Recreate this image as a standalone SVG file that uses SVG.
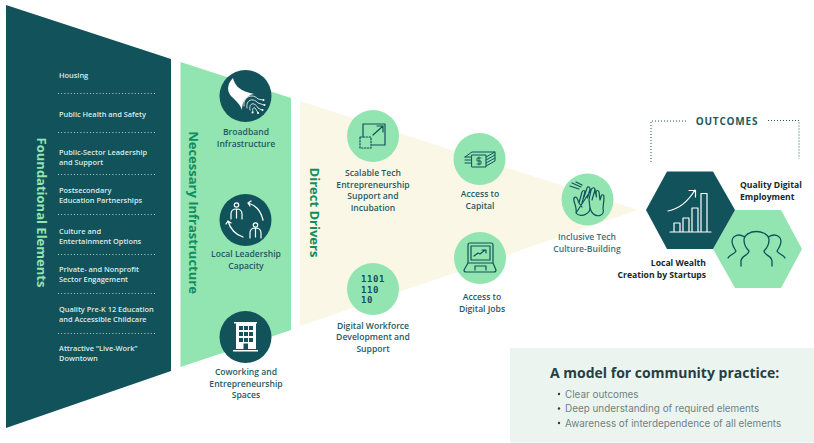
<svg xmlns="http://www.w3.org/2000/svg" width="814" height="443" viewBox="0 0 814 443">
<style>
text{font-family:"Open Sans","Liberation Sans",sans-serif}
.item{font-size:7.4px;font-weight:600;fill:#dcebe8}
.dots{stroke:#dcebe8;stroke-width:.8;stroke-dasharray:1 2.2;fill:none}
.head{font-size:13px;font-weight:700;text-anchor:middle}
.lab{font-size:8.6px;font-weight:600;fill:#1f5a63;text-anchor:middle}
.out{font-size:8.6px;font-weight:700;fill:#17262a}
.dark{fill:#11525b}
.mint{fill:#92e4b1}
.wl{fill:none;stroke:#fff;stroke-width:1.2;stroke-linecap:round;stroke-linejoin:round}
.dl{fill:none;stroke:#11525b;stroke-width:1.2;stroke-linecap:round;stroke-linejoin:round}
.bul{font-size:9.9px;fill:#71817f;font-family:Inter,"Liberation Sans",sans-serif}
.bin{font-family:"DejaVu Sans Mono","Liberation Mono",monospace;font-size:9px;font-weight:700;fill:#11525b;letter-spacing:.6px}
</style>
<g id="foundational">
<path class="dark" d="M6 5L171 59V371L6 428Z"/>
<text class="head" fill="#92e4b1" transform="translate(36.500 212.500) rotate(90)">Foundational Elements</text>
<path class="dots" d="M58 93.500H156M58 132.500H156M58 174.500H156M58 214.500H156M58 254.500H156M58 293.500H156M58 333.500H156"/>
<text class="item" x="59" y="78">Housing</text>
<text class="item" x="59" y="117">Public Health and Safety</text>
<text class="item" x="59" y="155">Public-Sector Leadership</text>
<text class="item" x="59" y="165">and Support</text>
<text class="item" x="59" y="193">Postsecondary</text>
<text class="item" x="59" y="203">Education Partnerships</text>
<text class="item" x="59" y="234">Culture and</text>
<text class="item" x="59" y="244">Entertainment Options</text>
<text class="item" x="59" y="272">Private- and Nonprofit</text>
<text class="item" x="59" y="282">Sector Engagement</text>
<text class="item" x="59" y="312">Quality Pre-K 12 Education</text>
<text class="item" x="59" y="322">and Accessible Childcare</text>
<text class="item" x="59" y="351">Attractive “Live-Work”</text>
<text class="item" x="59" y="361">Downtown</text>
</g>
<g id="necessary">
<path class="mint" d="M180.500 62L291 98V330L180.500 367Z"/>
<text class="head" fill="#0f8f5f" transform="translate(188.500 212.500) rotate(90)">Necessary Infrastructure</text>
</g>
<g id="direct">
<path fill="#fbf7e7" d="M300 101L638 210L300 326Z"/>
<text class="head" fill="#0f8f5f" transform="translate(310 212.500) rotate(90)">Direct Drivers</text>
</g>
<g id="broadband">
<circle class="dark" cx="245.500" cy="96" r="26"/>
<path fill="#fff" d="M233 78C228 83 226 90 231 96C236 101 240 104 242 110C242 101 247 95 254 94C246 92 236 90 233 78Z"/>
<path class="wl" style="stroke-width:.8" d="M244 106C243 100 247 96 252 96C254 96 256 97 258 99L263 100M247 108C246 103 249 99 253 100C255 100 257 102 258 103L264 105M250 110C249 106 251 103 254 104C256 105 257 106 258 108L262 110M253 112C252 109 253 107 255 108L257 111L258 113"/>
<circle cx="263.500" cy="100" r="1" fill="#fff"/><circle cx="264.500" cy="105" r="1" fill="#fff"/><circle cx="262.500" cy="110" r="1" fill="#fff"/><circle cx="258" cy="113" r="1" fill="#fff"/><circle cx="252.500" cy="112.500" r="1" fill="#fff"/>
<text class="lab" x="246" y="135">Broadband</text>
<text class="lab" x="246" y="147">Infrastructure</text>
</g>
<g id="leadership">
<circle class="dark" cx="245.500" cy="220" r="26"/>
<circle class="wl" cx="236.500" cy="205" r="2.200"/>
<path class="wl" d="M231 219V214C231 210 234 209 236.500 209C239 209 242 210 242 214V219M236.500 209V218"/>
<circle class="wl" cx="255.500" cy="225" r="2.200"/>
<path class="wl" d="M250 238V233C250 229 253 228 255.500 228C258 228 261 229 261 233V238M255.500 228V237"/>
<path class="wl" style="stroke-width:1.300" d="M248 203C255 205 261 211 263 220M248 203L251 201M248 203L250 206M243 237C236 235 230 229 228 221M228 221L226 224M228 221L231 223"/>
<text class="lab" x="246" y="257">Local Leadership</text>
<text class="lab" x="246" y="269">Capacity</text>
</g>
<g id="coworking">
<circle class="dark" cx="245.500" cy="337" r="26"/>
<path fill="#fff" d="M234 322H257V323.500H256V349H236V323.500H234ZM233 350H258V351.500H233Z"/>
<path class="dark" d="M239 326h4v4h-4zM244 326h4v4h-4zM249 326h4v4h-4zM239 332h4v4h-4zM244 332h4v4h-4zM249 332h4v4h-4zM239 338h4v4h-4zM244 338h4v4h-4zM249 338h4v4h-4zM243.500 343.500h4.500v5.500h-4.500z"/>
<text class="lab" x="246" y="375">Coworking and</text>
<text class="lab" x="246" y="387">Entrepreneurship</text>
<text class="lab" x="246" y="398">Spaces</text>
</g>
<g id="scalable">
<circle class="mint" cx="373" cy="136" r="26"/>
<path class="dl" d="M363 137V124H385V145H372"/>
<path class="dl" stroke-dasharray="1.500 1.500" d="M360 137H371V148H360Z"/>
<path class="dl" d="M373 135L383 126M377 126H383V132"/>
<text class="lab" x="373" y="176">Scalable Tech</text>
<text class="lab" x="373" y="188">Entrepreneurship</text>
<text class="lab" x="373" y="199">Support and</text>
<text class="lab" x="373" y="211">Incubation</text>
</g>
<g id="capital">
<circle class="mint" cx="479.500" cy="159" r="26"/>
<path class="dl" style="stroke-width:1" d="M465 157H471M465 160H471M465 163H471M465 157L472 152H495L486 157M495 152V155L486 160M495 155V158L486 163M495 158V161L486 166M472 155H486V167H472Z"/>
<path class="dl" style="stroke-width:.9" d="M481 158H477V161H481V164H477M479 157V165"/>
<text class="lab" x="480" y="197">Access to</text>
<text class="lab" x="480" y="209">Capital</text>
</g>
<g id="digital-jobs">
<circle class="mint" cx="480" cy="258" r="26"/>
<path class="dl" d="M468 263V245Q468 243 470 243H491Q493 243 493 245V263M471 260V246H490V260H471M468 263H493L496 270Q496 272 494 272H466Q464 272 464 270ZM475 270V266H486V270M474 256L478 253L480 254L485 250M482 250H486V253"/>
<text class="lab" x="482" y="300">Access to</text>
<text class="lab" x="482" y="312">Digital Jobs</text>
</g>
<g id="workforce">
<circle class="mint" cx="373" cy="289" r="26"/>
<text class="bin" x="361" y="281.500">1101</text>
<text class="bin" x="361" y="292.500">110</text>
<text class="bin" x="361" y="303">10</text>
<text class="lab" x="373" y="329">Digital Workforce</text>
<text class="lab" x="373" y="340">Development and</text>
<text class="lab" x="373" y="352">Support</text>
</g>
<g id="inclusive">
<circle class="mint" cx="587.500" cy="199.500" r="26"/>
<path class="dl" d="M576 213C577 209 575 205 574 201C573 197 576 196 577.500 199L579 203L582 192C583 190 585 190 585 192L584 197L587 188C588 186 590 187 590 189L587.500 198M591 190L589 200L590 208C590 211 588 213 586 214C583 216 578 216 576 213ZM579 203L582 207"/>
<path class="dl" d="M591 190C592 187 595 187 595 190L596.500 197L596 192C596 190 598.500 190 599 192L600 200L601 197C601 194 604 194 604 197C604 201 603 206 603 209C604 211 603 214 601 215C597 217 592 215 590 208M595 190L592 200M585 192L582 203"/>
<path class="dl" d="M570 186L579 189M572 183L581 187M576 182L582 185"/>
<text class="lab" style="fill:#3d7078" x="587" y="240">Inclusive Tech</text>
<text class="lab" style="fill:#3d7078" x="587" y="252">Culture-Building</text>
</g>
<g id="employment">
<path class="mint" d="M713 249L735 210H781L802 249L781 288H735Z"/>
<path class="dl" style="stroke-width:1.300" d="M741 266V261C741 256 749 255 749 251C746 248 744 244 744 240C744 235 750 231.500 756.500 231.500C763 231.500 769 235 769 240C769 244 767 248 764 251C764 255 772 256 772 261V266M728 258C729 255 735 254 736 251C734 248 732 245 732 241C732 237 736 235 739 235C741 235 743 236 745 237M785 258C784 255 778 254 777 251C779 248 781 245 781 241C781 237 777 235 774 235C772 235 770 236 768 237"/>
<text class="out" x="740" y="188">Quality Digital</text>
<text class="out" x="740" y="200">Employment</text>
</g>
<g id="startups">
<path class="dark" d="M646 210L667 171.500H713L735 210L713 249H667Z"/>
<path class="wl" d="M670 232H711M674 232V223H680V232M683 232V218H689V232M692 232V208H698V232M701 232V193.500H707V232M668 211C679 209 687 203 695 190M689 190.500H695.500V197"/>
<text class="out" x="706" y="266" text-anchor="end">Local Wealth</text>
<text class="out" x="706" y="278" text-anchor="end">Creation by Startups</text>
</g>
<g id="connectors">
<path fill="none" stroke="#1f5a63" stroke-width="1" stroke-dasharray="1 2" d="M651 162V121H687M768 120.500H799V159"/>
</g>
<g id="outcomes-label">
<text x="727" y="125" text-anchor="middle" font-size="10px" font-weight="700" letter-spacing=".8" fill="#1f5a63">OUTCOMES</text>
</g>
<g id="practice">
<rect x="510" y="348" width="304" height="94.500" fill="#ecf4f0"/>
<text x="550" y="378" font-family="Inter,'Liberation Sans',sans-serif" font-size="14" font-weight="700" fill="#253f42">A model for community practice:</text>
<circle cx="559" cy="394" r="1.200" fill="#253f42"/>
<circle cx="559" cy="408.500" r="1.200" fill="#253f42"/>
<circle cx="559" cy="423" r="1.200" fill="#253f42"/>
<text class="bul" x="565" y="397.500">Clear outcomes</text>
<text class="bul" x="565" y="412">Deep understanding of required elements</text>
<text class="bul" x="565" y="426.500">Awareness of interdependence of all elements</text>
</g>
</svg>
